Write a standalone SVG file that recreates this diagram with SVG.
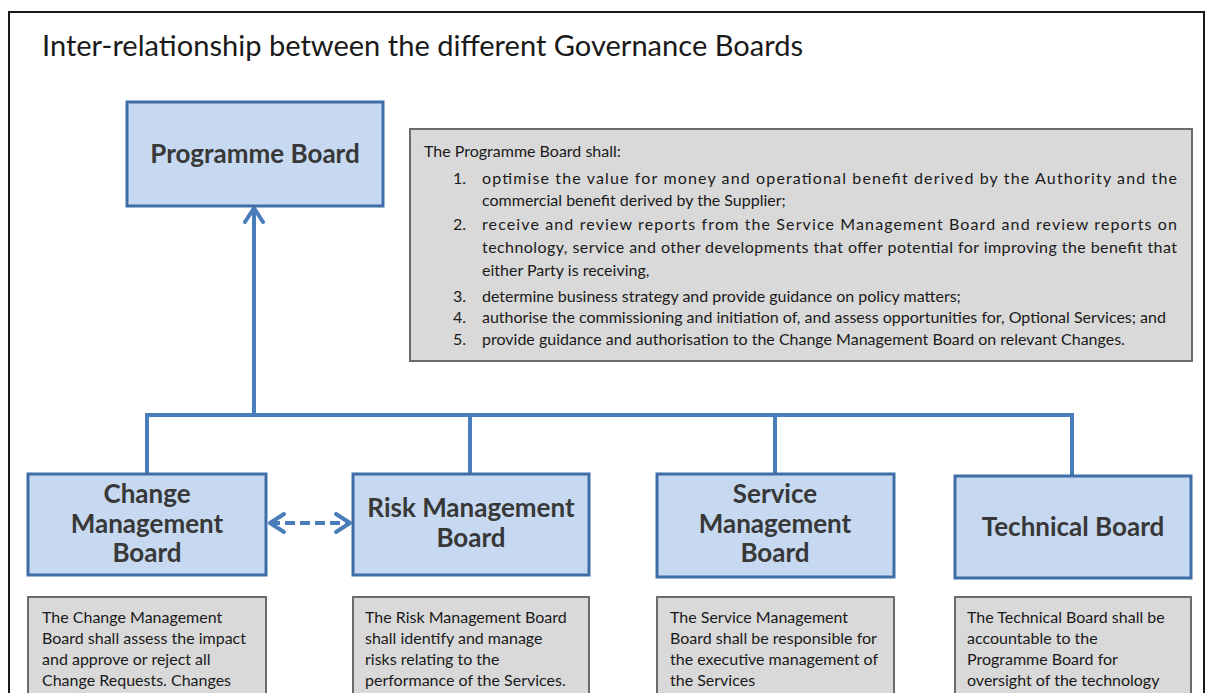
<svg xmlns="http://www.w3.org/2000/svg" width="1213" height="693" viewBox="0 0 1213 693">
  <style>
    .frame { fill: #ffffff; stroke: #1a1a1a; stroke-width: 2; }
    .title { font-family: Lato, "Open Sans", sans-serif; font-size: 28px; fill: #1a1a1a; }
    .board { fill: #c6d9f1; stroke: #3f6da8; stroke-width: 3; }
    .label { font-family: Lato, "Open Sans", sans-serif; font-weight: bold; font-size: 26px; fill: #383838; text-anchor: middle; }
    .desc { fill: #d9d9d9; stroke: #6b6b6b; stroke-width: 2; }
    .dtext { font-family: Lato, "Open Sans", sans-serif; font-size: 16px; fill: #1a1a1a; }
    .link { fill: none; stroke: #4a7ebb; stroke-width: 4; }
    .dash { stroke-dasharray: 10 5; }
  </style>
  <defs>
    <marker id="chev" markerUnits="userSpaceOnUse" markerWidth="24" markerHeight="24" viewBox="0 0 24 24" refX="18" refY="12" orient="auto-start-reverse">
      <path d="M4,3 L18,12 L4,21" fill="none" stroke="#4a7ebb" stroke-width="4" stroke-linecap="round" stroke-linejoin="round"/>
    </marker>
  </defs>

  <rect class="frame" x="9" y="12" width="1195" height="700"/>
  <text class="title" x="42" y="56" textLength="761" lengthAdjust="spacingAndGlyphs">Inter-relationship between the different Governance Boards</text>

  <g id="connectors">
    <line class="link" x1="254" y1="415" x2="254" y2="208" marker-end="url(#chev)"/>
    <path class="link" d="M147,474 V415 H1072 V476"/>
    <line class="link" x1="470" y1="415" x2="470" y2="474"/>
    <line class="link" x1="775" y1="415" x2="775" y2="474"/>
    <line class="link dash" x1="270" y1="523" x2="350" y2="523" marker-start="url(#chev)" marker-end="url(#chev)"/>
  </g>

  <g id="programme-board">
    <rect class="board" x="127" y="102" width="256" height="104"/>
    <text class="label" x="255" y="163" font-size="28">Programme Board</text>
  </g>

  <g id="programme-board-duties">
    <rect class="desc" x="410" y="129" width="782" height="232"/>
    <text class="dtext" x="424" y="157">The Programme Board shall:</text>
    <text class="dtext" x="453" y="184">1.</text>
    <text class="dtext" x="482" y="184" textLength="695" lengthAdjust="spacing">optimise the value for money and operational benefit derived by the Authority and the</text>
    <text class="dtext" x="482" y="206">commercial benefit derived by the Supplier;</text>
    <text class="dtext" x="453" y="230">2.</text>
    <text class="dtext" x="482" y="230" textLength="695" lengthAdjust="spacing">receive and review reports from the Service Management Board and review reports on</text>
    <text class="dtext" x="482" y="253" textLength="695" lengthAdjust="spacing">technology, service and other developments that offer potential for improving the benefit that</text>
    <text class="dtext" x="482" y="276">either Party is receiving,</text>
    <text class="dtext" x="453" y="302">3.</text>
    <text class="dtext" x="482" y="302">determine business strategy and provide guidance on policy matters;</text>
    <text class="dtext" x="453" y="323">4.</text>
    <text class="dtext" x="482" y="323">authorise the commissioning and initiation of, and assess opportunities for, Optional Services; and</text>
    <text class="dtext" x="453" y="345">5.</text>
    <text class="dtext" x="482" y="345">provide guidance and authorisation to the Change Management Board on relevant Changes.</text>
  </g>

  <g id="change-management-board">
    <rect class="board" x="28" y="474" width="238" height="101"/>
    <text class="label" x="147" y="503">Change</text>
    <text class="label" x="147" y="533">Management</text>
    <text class="label" x="147" y="562">Board</text>
  </g>
  <g id="change-management-duties">
    <rect class="desc" x="28" y="597" width="238" height="120"/>
    <text class="dtext" x="42" y="623">The Change Management</text>
    <text class="dtext" x="42" y="644">Board shall assess the impact</text>
    <text class="dtext" x="42" y="665">and approve or reject all</text>
    <text class="dtext" x="42" y="686">Change Requests. Changes</text>
  </g>

  <g id="risk-management-board">
    <rect class="board" x="353" y="474" width="236" height="101"/>
    <text class="label" x="471" y="517">Risk Management</text>
    <text class="label" x="471" y="547">Board</text>
  </g>
  <g id="risk-management-duties">
    <rect class="desc" x="353" y="597" width="236" height="120"/>
    <text class="dtext" x="365" y="623">The Risk Management Board</text>
    <text class="dtext" x="365" y="644">shall identify and manage</text>
    <text class="dtext" x="365" y="665">risks relating to the</text>
    <text class="dtext" x="365" y="686">performance of the Services.</text>
  </g>

  <g id="service-management-board">
    <rect class="board" x="657" y="474" width="237" height="103"/>
    <text class="label" x="775" y="503">Service</text>
    <text class="label" x="775" y="533">Management</text>
    <text class="label" x="775" y="562">Board</text>
  </g>
  <g id="service-management-duties">
    <rect class="desc" x="657" y="597" width="237" height="120"/>
    <text class="dtext" x="670" y="623">The Service Management</text>
    <text class="dtext" x="670" y="644">Board shall be responsible for</text>
    <text class="dtext" x="670" y="665">the executive management of</text>
    <text class="dtext" x="670" y="686">the Services</text>
  </g>

  <g id="technical-board">
    <rect class="board" x="955" y="476" width="236" height="102"/>
    <text class="label" x="1073" y="536">Technical Board</text>
  </g>
  <g id="technical-board-duties">
    <rect class="desc" x="955" y="597" width="236" height="120"/>
    <text class="dtext" x="967" y="623">The Technical Board shall be</text>
    <text class="dtext" x="967" y="644">accountable to the</text>
    <text class="dtext" x="967" y="665">Programme Board for</text>
    <text class="dtext" x="967" y="686">oversight of the technology</text>
  </g>
</svg>
